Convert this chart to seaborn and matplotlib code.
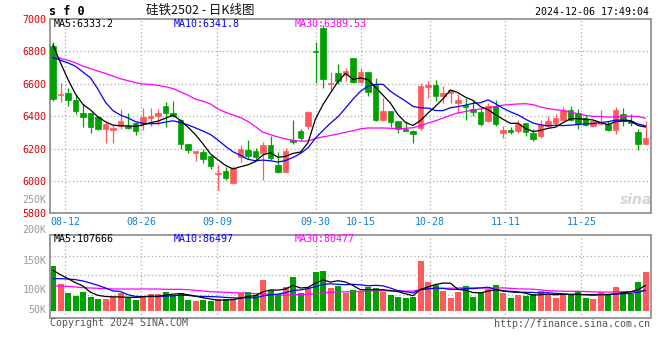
import numpy as np
import pandas as pd
import matplotlib
matplotlib.use("Agg")
import matplotlib.pyplot as plt
import seaborn as sns

# ---------------- data ----------------
open_ = [6835, 6532, 6540, 6501, 6418, 6418, 6393, 6318, 6316, 6342,
         6342, 6359, 6352, 6389, 6399, 6460, 6420, 6379, 6230, 6170,
         6180, 6153, 6045, 6062, 5990, 6149, 6190, 6184, 6174, 6224,
         6098, 6058, 6251, 6306, 6342, 6802, 6942, 6598, 6664, 6654,
         6757, 6611, 6672, 6590, 6379, 6434, 6367, 6322, 6306, 6326,
         6582, 6590, 6525, 6542, 6481, 6470, 6444, 6428, 6367, 6464,
         6296, 6312, 6306, 6355, 6296, 6277, 6342, 6359, 6379, 6440,
         6420, 6387, 6338, 6354, 6353, 6312, 6414, 6367, 6302, 6226]
high = [6861, 6607, 6576, 6536, 6475, 6418, 6403, 6363, 6346, 6444,
        6420, 6363, 6448, 6452, 6444, 6489, 6495, 6383, 6230, 6186,
        6200, 6159, 6098, 6088, 6092, 6220, 6251, 6204, 6241, 6277,
        6180, 6204, 6379, 6318, 6434, 6861, 6963, 6672, 6719, 6698,
        6759, 6698, 6672, 6637, 6515, 6434, 6367, 6367, 6312, 6607,
        6615, 6623, 6586, 6562, 6536, 6515, 6495, 6448, 6481, 6501,
        6342, 6332, 6379, 6359, 6318, 6379, 6403, 6414, 6454, 6464,
        6444, 6407, 6377, 6440, 6367, 6458, 6452, 6414, 6322, 6373]
low = [6495, 6485, 6460, 6414, 6332, 6298, 6312, 6237, 6237, 6318,
       6318, 6285, 6312, 6342, 6346, 6336, 6393, 6200, 6174, 6125,
       6113, 6074, 5946, 6003, 5984, 6119, 6135, 6123, 6007, 6129,
       6047, 6058, 6230, 6245, 6318, 6607, 6576, 6562, 6597, 6617,
       6607, 6607, 6525, 6373, 6367, 6332, 6298, 6306, 6237, 6316,
       6515, 6495, 6481, 6481, 6420, 6379, 6403, 6338, 6363, 6338,
       6265, 6287, 6298, 6277, 6247, 6265, 6338, 6338, 6367, 6367,
       6318, 6342, 6330, 6346, 6306, 6289, 6342, 6342, 6190, 6220]
close = [6505, 6536, 6499, 6430, 6393, 6332, 6322, 6350, 6326, 6373,
         6328, 6308, 6393, 6399, 6418, 6418, 6403, 6230, 6190, 6186,
         6133, 6094, 6049, 6017, 6078, 6200, 6155, 6149, 6224, 6143,
         6058, 6184, 6241, 6265, 6428, 6798, 6627, 6602, 6617, 6678,
         6611, 6672, 6550, 6379, 6434, 6363, 6318, 6310, 6289, 6586,
         6594, 6525, 6542, 6562, 6501, 6454, 6428, 6350, 6464, 6350,
         6312, 6302, 6353, 6302, 6257, 6346, 6367, 6387, 6440, 6379,
         6350, 6346, 6367, 6363, 6312, 6440, 6373, 6359, 6226, 6265]
volume = [188400, 113600, 74800, 63700, 78900, 58200, 49900, 49900, 58200, 74800,
          52600, 47100, 63700, 70600, 70600, 78900, 66500, 74800, 47100, 41600,
          44300, 41600, 49900, 49900, 49900, 74800, 78900, 66500, 128800, 88600,
          72000, 101100, 141300, 74800, 101100, 162000, 166200, 97000, 102500, 74800,
          88600, 78900, 99700, 97000, 78900, 67900, 59600, 54000, 58200, 207800,
          120500, 109400, 84500, 55400, 78900, 103900, 59600, 78900, 90000, 109400,
          74800, 55400, 66500, 63700, 69300, 83100, 66500, 55400, 72000, 70600,
          83100, 55400, 51200, 78900, 70600, 99700, 78900, 70600, 120500, 162000]

# moving-average values before the window is full
ma5_head = [6841, 6729, 6627, 6536]
ma10_head = [6763, 6745, 6729, 6708, 6672, 6637, 6566, 6485, 6434]
ma30_head = [6767, 6757, 6745, 6729, 6708, 6694, 6678, 6664, 6647, 6631,
             6619, 6607, 6599, 6595, 6590, 6582, 6570, 6550, 6529, 6505,
             6493, 6475, 6444, 6424, 6407, 6391, 6367, 6335, 6300]
vma5_head = [169000, 151000, 134300, 117700]
vma10_head = [134300, 134300, 133000, 130200, 124700, 116300, 106600, 95600, 83100]
vma30_head = [103900, 103900, 102500, 99700, 97000, 95600, 94200, 92800, 91400, 91400,
              91400, 91400, 91400, 91400, 91400, 90000, 90000, 90000, 88600, 85900,
              83100, 80300, 78900, 77600, 76200, 74800, 73400, 72000, 70600]

date_labels = ["08-12", "08-26", "09-09", "09-30", "10-15", "10-28", "11-11", "11-25"]
date_index = [2, 12, 22, 35, 41, 50, 60, 70]
price_ticks = [5800, 6000, 6200, 6400, 6600, 6800, 7000]
vol_tick_labels = ["200K", "150K", "100K", "50K"]

title_code = "s f 0"
title_main = "硅铁2502 - 日K线图"
stamp = "2024-12-06 17:49:04"
ma_price_labels = ["MA5:6333.2", "MA10:6341.8", "MA30:6389.53"]
ma_vol_labels = ["MA5:107666", "MA10:86497", "MA30:80477"]

# ---------------- derived ----------------
df = pd.DataFrame({"open": open_, "high": high, "low": low, "close": close, "vol": volume})
df["x"] = np.arange(len(df))


def moving(series, n, head):
    m = series.rolling(n).mean().to_numpy()
    m[:n - 1] = head
    return m


df["ma5"] = moving(df["close"], 5, ma5_head)
df["ma10"] = moving(df["close"], 10, ma10_head)
df["ma30"] = moving(df["close"], 30, ma30_head)
df["vma5"] = moving(df["vol"], 5, vma5_head)
df["vma10"] = moving(df["vol"], 10, vma10_head)
df["vma30"] = moving(df["vol"], 30, vma30_head)

RED = "#ff5a5a"
GREEN = "#00a000"
BLUE_LBL = "#1080d8"
FRAME = "#9a9a9a"
GRID = "#aaaaaa"
MONO = "DejaVu Sans Mono"

sns.set_theme(style="white")
plt.rcParams["font.family"] = [MONO, "Noto Sans CJK SC"]

W, H = 660, 360
fig = plt.figure(figsize=(W / 100, H / 100), dpi=100)
fig.patch.set_facecolor("white")


def rect(l, t, r, b):
    return [l / W, 1 - b / H, (r - l) / W, (b - t) / H]


def ftext(xp, yp, s, **kw):
    fig.text(xp / W, 1 - yp / H, s, **kw)


ax = fig.add_axes(rect(50, 19, 651, 213.3))
axv = fig.add_axes(rect(50, 234.7, 651, 318))

up = df["close"] >= df["open"]
colors = np.where(up, RED, GREEN)

# gridline positions (pixel layout of the reference's date grid)
grid_x = [(50.1 + 7.588 * i - 53) / 7.5 for i in date_index]

for a in (ax, axv):
    a.set_facecolor("white")
    for s in a.spines.values():
        s.set_color(FRAME)
        s.set_linewidth(1.4)
    a.set_xlim(-0.4, 79.73)
    for gx in grid_x:
        a.axvline(gx, color=GRID, lw=0.9, ls=(0, (1, 2)), zorder=0)

# ---------- price panel ----------
ax.set_ylim(5800, 7000)
for p in price_ticks[1:-1]:
    ax.axhline(p, color=GRID, lw=0.9, ls=(0, (1, 2)), zorder=0)
ax.vlines(df["x"], df["low"], df["high"], colors=colors, linewidth=0.9, zorder=2)
body = np.maximum((df["close"] - df["open"]).abs(), 3)
ax.bar(df["x"], body, bottom=np.minimum(df["open"], df["close"]), width=0.72,
       color=colors, edgecolor=colors, linewidth=0.5, zorder=3)
sns.lineplot(data=df, x="x", y="ma30", color="#ff00ff", lw=0.9, ax=ax, zorder=4)
sns.lineplot(data=df, x="x", y="ma10", color="#0000ff", lw=0.9, ax=ax, zorder=4)
sns.lineplot(data=df, x="x", y="ma5", color="black", lw=0.9, ax=ax, zorder=4)
ax.set_yticks(price_ticks)
ax.set_yticklabels([str(p) for p in price_ticks], color="#e00000", fontsize=7.2, family=MONO)
ax.set_xticks(grid_x)
ax.set_xticklabels(date_labels, color=BLUE_LBL, fontsize=7.2, family=MONO)
ax.tick_params(axis="both", length=0, pad=2.5)
ax.set_xlabel("")
ax.set_ylabel("")

# ---------- volume panel ----------
vpx = 4155.0
axv.set_ylim(-7 * vpx, 76.3 * vpx)
for yp in (255.7, 275.3, 295.0):
    axv.axhline((311 - yp) * vpx, color=GRID, lw=0.9, ls=(0, (1, 2)), zorder=0)
axv.bar(df["x"], df["vol"], width=0.8, color=colors, linewidth=0, zorder=2)
sns.lineplot(data=df, x="x", y="vma30", color="#ff00ff", lw=0.9, ax=axv, zorder=4)
sns.lineplot(data=df, x="x", y="vma10", color="#0000ff", lw=0.9, ax=axv, zorder=4)
sns.lineplot(data=df, x="x", y="vma5", color="black", lw=0.9, ax=axv, zorder=4)
axv.set_xticks(grid_x)
axv.set_xticklabels([])
axv.set_yticks([])
axv.tick_params(length=0)
axv.set_xlabel("")
axv.set_ylabel("")

# ---------- texts ----------
mono = dict(family=MONO, fontsize=7.2, va="center")
for lbl, yp in zip(vol_tick_labels, (230, 261, 290, 310)):
    ftext(46.5, yp, lbl, ha="right", color="#9a9a9a", **mono)
ftext(46.5, 200, "250K", ha="right", color="#9a9a9a", **mono)

for lbl, xp, c in zip(ma_price_labels, (54, 174, 295), ("black", "#0000ff", "#ff00ff")):
    ftext(xp, 24, lbl, ha="left", color=c, **mono)
for lbl, xp, c in zip(ma_vol_labels, (54, 174, 295), ("black", "#0000ff", "#ff00ff")):
    ftext(xp, 239, lbl, ha="left", color=c, **mono)

ftext(49, 11.5, title_code, ha="left", va="center", family=MONO, fontsize=8.5,
      fontweight="bold", color="black")
ftext(200, 10.5, title_main, ha="center", va="center",
      family=["Noto Sans CJK SC", "DejaVu Sans"], fontsize=9, color="#111111")
ftext(649, 12, stamp, ha="right", color="black", **mono)
ftext(50, 323.5, "Copyright 2024 SINA.COM", ha="left", color="#555555", **mono)
ftext(650, 324, "http://finance.sina.com.cn", ha="right", color="#555555", **mono)
ftext(636, 200, "sina", ha="center", va="center", family="DejaVu Sans", fontsize=10,
      fontstyle="italic", fontweight="bold", color="#d4d4d4")

fig.savefig("out.png", dpi=100, facecolor="white")
